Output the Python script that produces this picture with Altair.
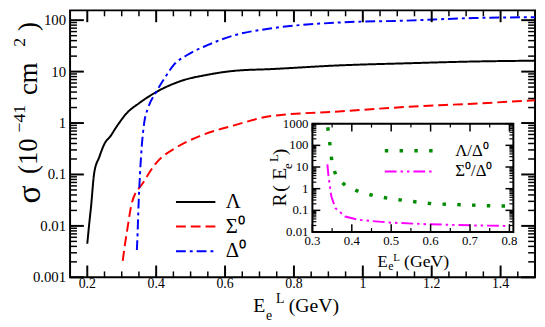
import altair as alt
import pandas as pd

FONT = "Liberation Serif"

# ---------------- main panel data ----------------
SERIES = ["Λ", "Σ⁰", "Δ⁰"]
SERIES_COLORS = ["#000000", "#ff0000", "#0000ff"]
SERIES_DASH = [[1, 0], [10, 5], [10, 4, 3, 4]]

LAMBDA_E = [0.200, 0.205, 0.211, 0.220, 0.235, 0.253, 0.265, 0.284, 0.314, 0.353,
            0.400, 0.470, 0.550, 0.630, 0.735, 0.930, 1.127, 1.320, 1.500]
LAMBDA_S = [0.0045, 0.010, 0.024, 0.106, 0.22, 0.43, 0.53, 0.83, 1.54, 2.5,
            4.0, 6.5, 8.7, 10.4, 11.2, 13.2, 14.5, 15.7, 16.3]

SIGMA_E = [0.303, 0.309, 0.315, 0.330, 0.362, 0.400, 0.460, 0.530, 0.626, 0.735,
           0.930, 1.127, 1.320, 1.500]
SIGMA_S = [0.0021, 0.0042, 0.0076, 0.029, 0.069, 0.167, 0.34, 0.57, 0.90, 1.37,
           1.68, 2.06, 2.38, 2.77]

DELTA_E = [0.344, 0.346, 0.348, 0.353, 0.358, 0.365, 0.377, 0.400, 0.431, 0.451,
           0.490, 0.549, 0.627, 0.726, 0.930, 1.127, 1.320, 1.500]
DELTA_S = [0.0034, 0.007, 0.018, 0.10, 0.34, 0.98, 2.0, 4.0, 8.7, 13.5,
           21.0, 32.6, 51.0, 68.0, 90.0, 98.0, 110.0, 114.0]

MAIN_X_LIMITS = [0.15, 1.5]
MAIN_Y_LIMITS = [0.001, 155]
MAIN_X_MAJOR = [0.2, 0.4, 0.6, 0.8, 1.0, 1.2, 1.4]
MAIN_X_LABELS = ["0.2", "0.4", "0.6", "0.8", "1", "1.2", "1.4"]
MAIN_X_MINOR = [0.25, 0.3, 0.35, 0.45, 0.5, 0.55, 0.65, 0.7, 0.75, 0.85, 0.9, 0.95,
                1.05, 1.1, 1.15, 1.25, 1.3, 1.35, 1.45]
MAIN_Y_MAJOR = [0.001, 0.01, 0.1, 1, 10, 100]
MAIN_Y_LABELS = ["0.001", "0.01", "0.1", "1", "10", "100"]
MANTISSAS = [2, 3, 4, 5, 6, 7, 8, 9]
MAIN_Y_MINOR = [m * d for d in [0.001, 0.01, 0.1, 1, 10, 100] for m in MANTISSAS if m * d < 155]

# ---------------- inset data ----------------
RATIOS = ["Λ/Δ⁰", "Σ⁰/Δ⁰"]
RATIO_COLORS = ["#008b00", "#ff00ff"]
RATIO_DASH = [[3.5, 11.5], [12, 4, 2.5, 4, 2.5, 4]]
RATIO_WIDTH = [3.5, 2]

LD_E = [0.339, 0.343, 0.347, 0.350, 0.361, 0.384, 0.418, 0.455, 0.493, 0.530,
        0.568, 0.606, 0.644, 0.683, 0.720, 0.758, 0.795]
LD_R = [680, 182, 48, 13.2, 3.6, 1.37, 0.73, 0.48, 0.36, 0.29,
        0.24, 0.20, 0.19, 0.18, 0.17, 0.16, 0.16]

SD_E = [0.338, 0.341, 0.348, 0.358, 0.383, 0.416, 0.460, 0.500, 0.590, 0.670, 0.720, 0.800]
SD_R = [13.2, 3.6, 0.45, 0.13, 0.052, 0.037, 0.031, 0.027, 0.023, 0.021, 0.020, 0.019]

INSET_X_LIMITS = [0.3, 0.81]
INSET_Y_LIMITS = [0.01, 1000]
INSET_X_MAJOR = [0.3, 0.4, 0.5, 0.6, 0.7, 0.8]
INSET_X_LABELS = ["0.3", "0.4", "0.5", "0.6", "0.7", "0.8"]
INSET_X_MINOR = [0.35, 0.45, 0.55, 0.65, 0.75]
INSET_Y_MAJOR = [0.01, 0.1, 1, 10, 100, 1000]
INSET_Y_LABELS = ["0.01", "0.1", "1", "10", "100", "1000"]
INSET_Y_MINOR = [m * d for d in [0.01, 0.1, 1, 10, 100] for m in MANTISSAS]

# ---------------- layout ----------------
W, H = 472, 271
INSET_X_RANGE = [246, 450]
INSET_Y_RANGE = [225, 115]

main_x = alt.Scale(domain=MAIN_X_LIMITS)
main_y = alt.Scale(type="log", domain=MAIN_Y_LIMITS)
ins_x = alt.Scale(domain=INSET_X_LIMITS, range=INSET_X_RANGE)
ins_y = alt.Scale(type="log", domain=INSET_Y_LIMITS, range=INSET_Y_RANGE)

main_df = pd.DataFrame({
    "E": LAMBDA_E + SIGMA_E + DELTA_E,
    "s": LAMBDA_S + SIGMA_S + DELTA_S,
    "series": [SERIES[0]] * len(LAMBDA_E) + [SERIES[1]] * len(SIGMA_E) + [SERIES[2]] * len(DELTA_E),
})
ins_df = pd.DataFrame({
    "E": LD_E + SD_E,
    "r": LD_R + SD_R,
    "ratio": [RATIOS[0]] * len(LD_E) + [RATIOS[1]] * len(SD_E),
})

main_legend = alt.Legend(orient="none", legendX=117, legendY=184, symbolType="M-4,0H4",
                         symbolSize=100, symbolStrokeWidth=2, labelFont=FONT, labelFontSize=21,
                         labelColor="black", labelOffset=20, rowPadding=3, padding=0, title=None)
ins_legend = alt.Legend(orient="none", legendX=336, legendY=134, symbolType="M-5,0H5",
                        symbolSize=100, labelFont=FONT, labelFontSize=17,
                        labelColor="black", labelOffset=38, rowPadding=3, padding=0, title=None)

curves = alt.Chart(main_df).mark_line(strokeWidth=2, interpolate="monotone").encode(
    x=alt.X("E:Q", scale=main_x, axis=None),
    y=alt.Y("s:Q", scale=main_y, axis=None),
    color=alt.Color("series:N", scale=alt.Scale(domain=SERIES, range=SERIES_COLORS), legend=main_legend),
    strokeDash=alt.StrokeDash("series:N", scale=alt.Scale(domain=SERIES, range=SERIES_DASH), legend=main_legend),
    order=alt.Order("E:Q"),
)


def vticks(vals, xscale, yscale, ydatum, length, width):
    return alt.Chart(pd.DataFrame({"v": vals})).mark_rule(
        color="black", strokeWidth=width, y2Offset=length).encode(
        x=alt.X("v:Q", scale=xscale, axis=None),
        y=alt.YDatum(ydatum, scale=yscale, axis=None),
        y2=alt.Y2Datum(ydatum),
    )


def hticks(vals, xscale, yscale, xdatum, length, width):
    return alt.Chart(pd.DataFrame({"v": vals})).mark_rule(
        color="black", strokeWidth=width, x2Offset=length).encode(
        y=alt.Y("v:Q", scale=yscale, axis=None),
        x=alt.XDatum(xdatum, scale=xscale, axis=None),
        x2=alt.X2Datum(xdatum),
    )


def xlabels(vals, texts, xscale, yscale, ydatum, size, dy):
    return alt.Chart(pd.DataFrame({"v": vals, "t": texts})).mark_text(
        font=FONT, fontSize=size, align="center", baseline="top", dy=dy, color="black").encode(
        x=alt.X("v:Q", scale=xscale, axis=None),
        y=alt.YDatum(ydatum, scale=yscale, axis=None),
        text="t:N",
    )


def ylabels(vals, texts, xscale, yscale, xdatum, size, dx):
    return alt.Chart(pd.DataFrame({"v": vals, "t": texts})).mark_text(
        font=FONT, fontSize=size, align="right", baseline="middle", dx=dx, color="black").encode(
        y=alt.Y("v:Q", scale=yscale, axis=None),
        x=alt.XDatum(xdatum, scale=xscale, axis=None),
        text="t:N",
    )


def label(text, x, y, size, angle=0):
    return alt.Chart(pd.DataFrame({"t": [text]})).mark_text(
        font=FONT, fontSize=size, align="left", baseline="alphabetic", angle=angle, color="black"
    ).encode(text="t:N", x=alt.value(x), y=alt.value(y))


main_ticks = [
    vticks(MAIN_X_MAJOR, main_x, main_y, MAIN_Y_LIMITS[0], -12, 2),
    vticks(MAIN_X_MINOR, main_x, main_y, MAIN_Y_LIMITS[0], -6, 1.5),
    vticks(MAIN_X_MAJOR, main_x, main_y, MAIN_Y_LIMITS[1], 12, 2),
    vticks(MAIN_X_MINOR, main_x, main_y, MAIN_Y_LIMITS[1], 6, 1.5),
    hticks(MAIN_Y_MAJOR, main_x, main_y, MAIN_X_LIMITS[0], 14, 2),
    hticks(MAIN_Y_MINOR, main_x, main_y, MAIN_X_LIMITS[0], 7, 1.5),
    hticks(MAIN_Y_MAJOR, main_x, main_y, MAIN_X_LIMITS[1], -14, 2),
    hticks(MAIN_Y_MINOR, main_x, main_y, MAIN_X_LIMITS[1], -7, 1.5),
    xlabels(MAIN_X_MAJOR, MAIN_X_LABELS, main_x, main_y, MAIN_Y_LIMITS[0], 14, 0),
    ylabels(MAIN_Y_MAJOR, MAIN_Y_LABELS, main_x, main_y, MAIN_X_LIMITS[0], 15, -4),
]

main_titles = [
    # x title: E_e^L (GeV)
    label("E", 186, 306, 20),
    label("e", 199, 314, 14),
    label("L", 209, 297, 14),
    label("(GeV)", 222, 306, 20),
    # y title: sigma (10^-41 cm^2), rotated
    label("σ", -31, 196, 34, 270),
    label("(10", -34, 166, 27, 270),
    label("−41", -46, 124, 18, 270),
    label("cm", -34, 86, 27, 270),
    label("2", -46, 37, 18, 270),
    label(")", -34, 21, 27, 270),
]

main_group = alt.layer(curves, *main_ticks, *main_titles)

frame_df = pd.DataFrame({"x": [INSET_X_LIMITS[0]], "x2": [INSET_X_LIMITS[1]],
                         "y": [INSET_Y_LIMITS[0]], "y2": [INSET_Y_LIMITS[1]]})
ins_frame = alt.Chart(frame_df).mark_rect(fill="white", stroke="black", strokeWidth=2).encode(
    x=alt.X("x:Q", scale=ins_x, axis=None),
    x2="x2:Q",
    y=alt.Y("y:Q", scale=ins_y, axis=None),
    y2="y2:Q",
)
ins_curves = alt.Chart(ins_df).mark_line(strokeCap="butt").encode(
    x=alt.X("E:Q", scale=ins_x, axis=None),
    y=alt.Y("r:Q", scale=ins_y, axis=None),
    color=alt.Color("ratio:N", scale=alt.Scale(domain=RATIOS, range=RATIO_COLORS), legend=ins_legend),
    strokeDash=alt.StrokeDash("ratio:N", scale=alt.Scale(domain=RATIOS, range=RATIO_DASH), legend=ins_legend),
    strokeWidth=alt.StrokeWidth("ratio:N", scale=alt.Scale(domain=RATIOS, range=RATIO_WIDTH), legend=ins_legend),
    order=alt.Order("E:Q"),
)
ins_ticks = [
    vticks(INSET_X_MAJOR, ins_x, ins_y, INSET_Y_LIMITS[0], -8, 1.5),
    vticks(INSET_X_MINOR, ins_x, ins_y, INSET_Y_LIMITS[0], -4, 1.2),
    vticks(INSET_X_MAJOR, ins_x, ins_y, INSET_Y_LIMITS[1], 8, 1.5),
    vticks(INSET_X_MINOR, ins_x, ins_y, INSET_Y_LIMITS[1], 4, 1.2),
    hticks(INSET_Y_MAJOR, ins_x, ins_y, INSET_X_LIMITS[0], 8, 1.5),
    hticks(INSET_Y_MINOR, ins_x, ins_y, INSET_X_LIMITS[0], 4, 1.2),
    hticks(INSET_Y_MAJOR, ins_x, ins_y, INSET_X_LIMITS[1], -8, 1.5),
    hticks(INSET_Y_MINOR, ins_x, ins_y, INSET_X_LIMITS[1], -4, 1.2),
    xlabels(INSET_X_MAJOR, INSET_X_LABELS, ins_x, ins_y, INSET_Y_LIMITS[0], 13, 3),
    ylabels(INSET_Y_MAJOR, INSET_Y_LABELS, ins_x, ins_y, INSET_X_LIMITS[0], 13, -4),
]
ins_titles = [
    label("E", 312, 260, 17),
    label("e", 323, 264, 12),
    label("L", 328, 254, 11),
    label("(GeV)", 339, 260, 18),
    label("R", 219, 199, 20, 270),
    label("(", 219, 184, 20, 270),
    label("E", 219, 172, 20, 270),
    label("e", 225, 161, 13, 270),
    label("L", 211, 154, 13, 270),
    label(")", 219, 147, 20, 270),
]
inset_group = alt.layer(ins_frame, ins_curves, *ins_ticks, *ins_titles)

chart = alt.layer(main_group, inset_group).resolve_scale(
    x="independent", y="independent", color="independent",
    strokeDash="independent", strokeWidth="independent",
).properties(
    width=W, height=H, autosize="none",
    padding={"left": 63, "top": 0, "right": 2, "bottom": 48},
    background="white",
).configure_view(stroke="black", strokeWidth=2)

chart.save("out.html", embed_options={"renderer": "svg", "actions": False})
